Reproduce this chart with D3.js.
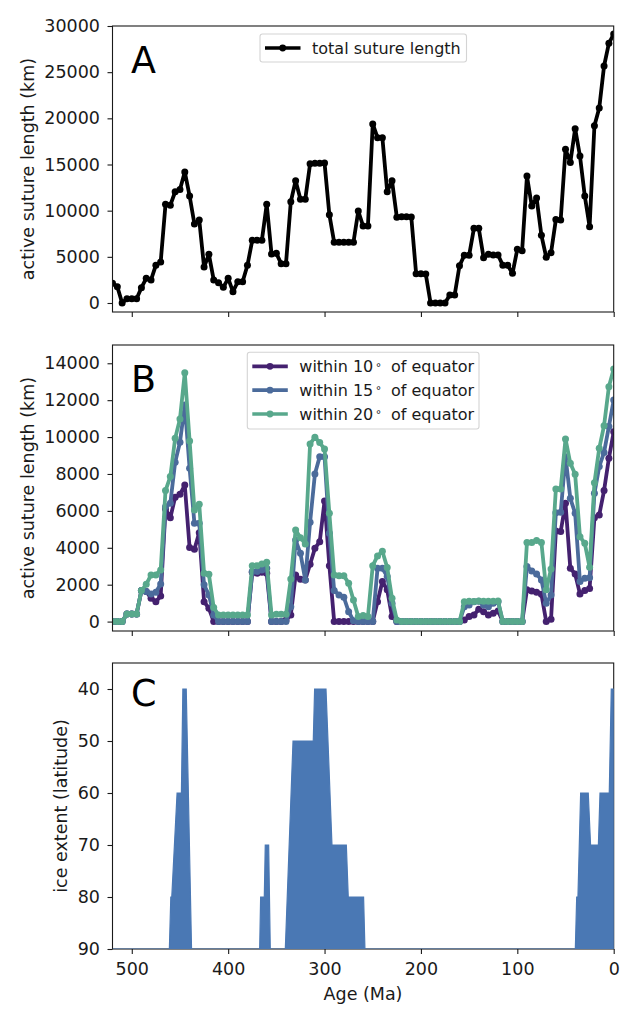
<!DOCTYPE html>
<html>
<head>
<meta charset="utf-8">
<script src="https://cdnjs.cloudflare.com/ajax/libs/d3/7.8.5/d3.min.js"></script>
<style>
  html, body { margin: 0; padding: 0; background: #fff; }
  svg { display: block; }
  text { font-family: "DejaVu Sans", sans-serif; fill: #1a1a1a; }
</style>
</head>
<body>
<div id="grafica"></div>
<script>
// ages of the samples (Ma), 5 Myr steps
var ages = [520,515,510,505,500,495,490,485,480,475,
  470,465,460,455,450,445,440,435,430,425,
  420,415,410,405,400,395,390,385,380,375,
  370,365,360,355,350,345,340,335,330,325,
  320,315,310,305,300,295,290,285,280,275,
  270,265,260,255,250,245,240,235,230,225,
  220,215,210,205,200,195,190,185,180,175,
  170,165,160,155,150,145,140,135,130,125,
  120,115,110,105,100,95,90,85,80,75,
  70,65,60,55,50,45,40,35,30,25,
  20,15,10,5,0];

// panel A
var totalSuture = [2130,1770,0,470,470,470,1660,2670,2500,4100,
  4440,10690,10600,12050,12300,14190,11590,8550,8990,3900,
  5270,2500,2200,1700,2670,1230,2300,2300,4080,6790,
  6790,6800,10690,5300,5380,4260,4260,10970,13250,11230,
  11230,15090,15130,15130,15160,9570,6570,6570,6570,6570,
  6570,9960,8340,8340,19390,17900,17900,12060,13250,9280,
  9350,9350,9310,3180,3180,3140,0,0,0,0,
  870,870,4040,5160,5160,8090,8090,4910,5270,5200,
  5200,4080,4080,3210,5810,5670,13750,10500,11370,7330,
  4950,5450,9030,8990,16640,15230,18880,15920,11590,8270,
  19200,21120,25670,28120,29130];

// panel B
var within10 = [0,0,0,415,415,415,1680,1625,1265,1080,
  1390,6100,5630,6740,6900,7400,4010,3920,4820,1080,
  720,0,0,0,0,0,0,0,0,2670,
  2620,2670,2620,0,0,0,90,360,2530,2290,
  2260,3110,3970,4330,6540,3030,0,0,0,0,
  0,0,0,0,0,1080,2170,1720,270,0,
  0,0,0,0,0,0,0,0,0,0,
  0,0,0,90,270,360,670,540,360,450,
  580,0,0,0,0,0,1720,1660,1590,1480,
  0,130,4910,4880,6410,2890,2580,1500,1680,1800,
  5630,5780,7100,8850,10290];
var within15 = [0,0,0,415,415,415,1680,1625,1500,1590,
  2040,6230,6410,8630,9720,11740,8310,5330,5330,1990,
  1445,360,0,0,0,0,0,0,0,2710,
  2710,2800,2890,0,0,0,0,810,4420,3700,
  2260,5380,8000,8940,8940,4790,1680,1445,1320,540,
  50,0,0,0,0,2890,2890,2440,990,0,
  0,0,0,0,0,0,0,0,0,0,
  0,0,0,800,900,1080,1100,900,810,990,
  1080,0,0,0,0,0,2980,2745,2580,2260,
  990,1440,5900,5920,8940,6680,5870,2170,2350,2380,
  6950,8400,9170,10570,12010];
var within20 = [0,0,0,415,415,415,1680,2020,2530,2530,
  2800,7100,7860,9930,10980,13490,9790,6050,6360,2620,
  2560,760,360,360,360,360,360,360,360,3030,
  3030,3120,3210,360,400,400,400,2310,4970,4550,
  4210,9630,9990,9700,9350,5870,2530,2490,2490,2080,
  1170,270,325,270,3030,3560,3810,2930,1260,90,
  0,0,0,0,0,0,0,0,0,0,
  0,0,0,1080,1100,1090,1120,1100,1100,1100,
  1110,0,0,0,0,0,4280,4280,4390,4280,
  1720,2850,7190,7190,9900,8580,7980,4600,4240,2940,
  7530,9390,10620,12730,13690];

// panel C, ice edge outline
var iceAges = [520,461,459.5,458.5,453,448.5,447,443.5,438,
  367.3,366.3,362.5,361.5,358,356.3,
  340.7,332.7,311.7,310.3,298.5,292.3,277.4,275.4,259.5,258.1,
  39.8,38.4,37.1,34.3,26.4,24,15.9,14.2,4.6,2.5,0];
var iceLat = [90,90,80,80,60,60,40,40,90,
  90,80,80,70,70,90,
  90,50,50,40,40,70,70,80,80,90,
  90,80,80,60,60,70,70,60,60,40,40];

var xTicks = [500,400,300,200,100,0];
var ticksA = [0,5000,10000,15000,20000,25000,30000];
var ticksB = [0,2000,4000,6000,8000,10000,12000,14000];
var ticksC = [40,50,60,70,80,90];

var colorNegro = "#000000", colorMorado = "#44216f", colorAzul = "#4b6b9b", colorVerde = "#58a88c", colorHielo = "#4a78b4";

var ancho = 640, altura = 1024;
var izquierda = 112.5, derecha = 613.7;
var letraEje = 17.5;

var svg = d3.select("#grafica").append("svg")
  .attr("width", ancho)
  .attr("height", altura);

var x = d3.scaleLinear().domain([520, 0]).range([izquierda, derecha]);

//Crea un panel con ejes y devuelve su escala y su grupo
function crearPanel(id, arriba, abajo, dominio, yTicks, letra, letraY, etiqueta, etiquetaX, conNumeros) {
  var y = d3.scaleLinear().domain(dominio).range([abajo, arriba]);
  var g = svg.append("g");

  svg.append("clipPath").attr("id", id)
    .append("rect")
    .attr("x", izquierda)
    .attr("y", arriba)
    .attr("width", derecha - izquierda)
    .attr("height", abajo - arriba);

  var marcas = g.append("g").attr("clip-path", "url(#" + id + ")");

  var ejeY = g.append("g")
    .attr("transform", "translate(" + izquierda + ",0)")
    .call(d3.axisLeft(y).tickValues(yTicks).tickFormat(d3.format("d")).tickSize(5).tickPadding(7.5));
  var ejeX = g.append("g")
    .attr("transform", "translate(0," + abajo + ")")
    .call(d3.axisBottom(x).tickValues(xTicks).tickSize(5).tickPadding(9).tickFormat(conNumeros ? d3.format("d") : ""));

  [ejeY, ejeX].forEach(function (e) {
    e.selectAll("path").remove();
    e.selectAll("line").attr("stroke", "#1a1a1a").attr("stroke-width", 1.1);
    e.selectAll("text").attr("font-size", letraEje).attr("fill", "#1a1a1a");
  });

  g.append("rect")
    .attr("x", izquierda)
    .attr("y", arriba)
    .attr("width", derecha - izquierda)
    .attr("height", abajo - arriba)
    .attr("fill", "none")
    .attr("stroke", "#1a1a1a")
    .attr("stroke-width", 1.1);

  g.append("text")
    .attr("x", 131)
    .attr("y", letraY)
    .attr("font-size", 36.5)
    .style("fill", "#000")
    .text(letra);

  g.append("text")
    .attr("transform", "translate(" + etiquetaX + "," + ((arriba + abajo) / 2) + ") rotate(-90)")
    .attr("text-anchor", "middle")
    .attr("font-size", letraEje)
    .text(etiqueta);

  return { y: y, marcas: marcas };
}

//Dibuja linea con puntos
function dibujarSerie(panel, valores, color, grosor, radio) {
  var linea = d3.line()
    .x(function (d, i) { return x(ages[i]); })
    .y(function (d) { return panel.y(d); });

  panel.marcas.append("path")
    .attr("d", linea(valores))
    .attr("fill", "none")
    .attr("stroke", color)
    .attr("stroke-width", grosor)
    .attr("stroke-linejoin", "round");

  panel.marcas.append("g")
    .selectAll("circle")
    .data(valores)
    .enter().append("circle")
    .attr("cx", function (d, i) { return x(ages[i]); })
    .attr("cy", function (d) { return panel.y(d); })
    .attr("r", radio)
    .attr("fill", color);
}

//Cuadro de leyenda
function dibujarLeyenda(x0, y0, w, h, filas) {
  var g = svg.append("g");
  g.append("rect")
    .attr("x", x0).attr("y", y0)
    .attr("width", w).attr("height", h)
    .attr("rx", 2.5)
    .attr("fill", "#fff")
    .attr("fill-opacity", 0.8)
    .attr("stroke", "#d4d4d4")
    .attr("stroke-width", 1.1);

  filas.forEach(function (f, i) {
    var yy = y0 + 14 + i * 23.85;
    g.append("line")
      .attr("x1", x0 + 5).attr("x2", x0 + 40.5)
      .attr("y1", yy).attr("y2", yy)
      .attr("stroke", f.color).attr("stroke-width", 3.7);
    g.append("circle")
      .attr("cx", x0 + 22.7).attr("cy", yy)
      .attr("r", 3.4)
      .attr("fill", f.color);
    var t = g.append("text")
      .attr("x", x0 + 52)
      .attr("y", yy + 5.7)
      .attr("font-size", 16);
    if (f.grados) {
      t.append("tspan").text(f.texto);
      t.append("tspan").attr("font-size", 11).attr("dx", 2.5).attr("dy", -1.5).text("\u00b0");
      t.append("tspan").attr("dx", 9.7).attr("dy", 1.5).text(f.grados);
    } else {
      t.text(f.texto);
    }
  });
}

// panel A
var panelA = crearPanel("clipA", 26, 312, [-975, 30000], ticksA, "A", 73, "active suture length (km)", 34, false);
dibujarSerie(panelA, totalSuture, colorNegro, 3.8, 3.5);
dibujarLeyenda(260, 34, 206.5, 28, [{ color: colorNegro, texto: "total suture length" }]);

// panel B
var panelB = crearPanel("clipB", 345, 631, [-510, 14990], ticksB, "B", 392, "active suture length (km)", 34, false);
dibujarSerie(panelB, within10, colorMorado, 3.8, 3.5);
dibujarSerie(panelB, within15, colorAzul, 3.8, 3.5);
dibujarSerie(panelB, within20, colorVerde, 3.8, 3.5);
dibujarLeyenda(247.3, 352.3, 231.7, 76.7, [
  { color: colorMorado, texto: "within 10", grados: "of equator" },
  { color: colorAzul, texto: "within 15", grados: "of equator" },
  { color: colorVerde, texto: "within 20", grados: "of equator" }
]);

// panel C
var panelC = crearPanel("clipC", 663, 949, [90, 35], ticksC, "C", 706, "ice extent (latitude)", 67, true);
var area = d3.area()
  .x(function (d, i) { return x(iceAges[i]); })
  .y0(panelC.y(90))
  .y1(function (d) { return panelC.y(d); });
panelC.marcas.append("path")
  .attr("d", area(iceLat))
  .attr("fill", colorHielo)
  .attr("stroke", colorHielo)
  .attr("stroke-width", 1.2);
panelC.marcas.raise(); //la linea azul queda sobre el borde inferior

svg.append("text")
  .attr("x", 363)
  .attr("y", 1000)
  .attr("text-anchor", "middle")
  .attr("font-size", letraEje)
  .text("Age (Ma)");
</script>
</body>
</html>
